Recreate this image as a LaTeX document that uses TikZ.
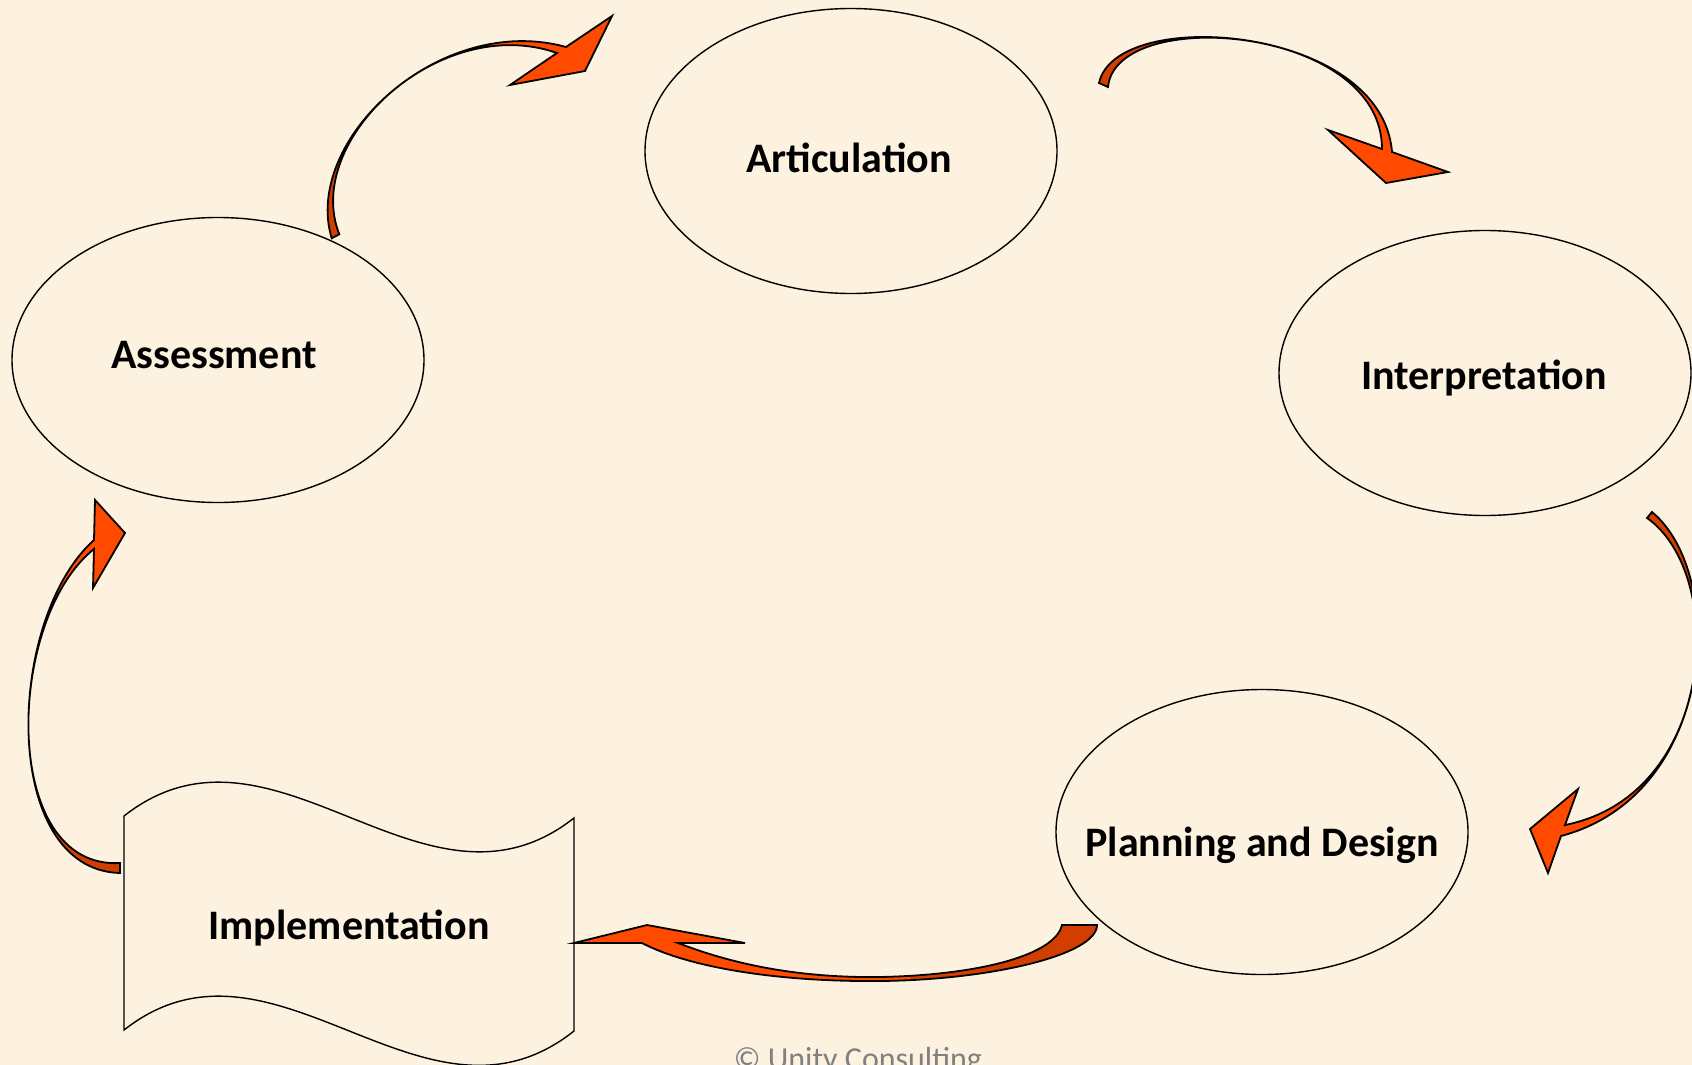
\documentclass[tikz,border=0pt]{standalone}
\usepackage{fontspec}
\setmainfont{Carlito}
\usetikzlibrary{shapes.geometric}
\definecolor{bg}{RGB}{253,242,223}
\definecolor{arrbright}{RGB}{255,74,0}
\definecolor{arrdark}{RGB}{210,62,0}
\definecolor{copygray}{RGB}{128,128,128}
\tikzset{
  stage/.style={ellipse, draw=black, line width=1.4pt, minimum width=412pt, minimum height=285pt, inner sep=0pt, fill=bg},
  stagelabel/.style={font=\fontsize{42}{50}\selectfont\bfseries, anchor=base, inner sep=0pt},
  arrowline/.style={draw=black, line width=1.8pt, line join=miter},
}
\def\arrowOne{(331.7,238.3) .. controls (302,140) and (440,12) .. (566,47) -- (612,16) -- (585,71) -- (510,85) -- (557,53) .. controls (440,12) and (302,140) .. (339.3,234.3) -- cycle}
\def\arrowTwo{(1099,83) .. controls (1116,5) and (1382,25) .. (1392,152) -- (1448,172) -- (1386,183) -- (1328,130) -- (1382,149) .. controls (1382,25) and (1116,5) .. (1108,87) -- cycle}
\def\arrowThree{(1652,512) .. controls (1728,575) and (1716,795) .. (1561,836) -- (1548,873) -- (1530,829) -- (1578,789) -- (1565,825) .. controls (1716,795) and (1728,575) .. (1647,518) -- cycle}
\def\arrowFour{(574,943) -- (647,925) -- (745,943) -- (678,943) .. controls (735,965) and (800,978) .. (880,977) .. controls (980,975) and (1055,955) .. (1062,925) -- (1097,925) .. controls (1097,955) and (990,980) .. (880,981) .. controls (780,982) and (690,968) .. (642,943) -- cycle}
\def\arrowFive{(120,873) .. controls (0,870) and (5,620) .. (94,540) -- (95,500) -- (125,533) -- (93,588) -- (94,549) .. controls (5,620) and (0,870) .. (120,863) -- cycle}
\begin{document}
\begin{tikzpicture}[x=1pt,y=-1pt]
\fill[bg] (0,0) rectangle (1692,1065);
\useasboundingbox (0,0) rectangle (1692,1065);
\clip (0,0) rectangle (1692,1065);

% stages
\node[stage] (art) at (851,151) {};
\node[stage] (ass) at (218,360) {};
\node[stage] (int) at (1485,373) {};
\node[stage] (pla) at (1262,832) {};
\path[fill=bg, draw=black, line width=1.4pt] (124,816) .. controls (274,698) and (424,936) .. (574,818) -- (574,1031) .. controls (424,1150) and (274,912) .. (124,1030) -- cycle;

% arrows: bright fill, darker tail part, outline
\fill[arrbright] \arrowOne;
\begin{scope}\clip (290,120) rectangle (470,260); \fill[arrdark] \arrowOne; \end{scope}
\path[arrowline] \arrowOne;

\fill[arrbright] \arrowTwo;
\begin{scope}\clip (1080,0) rectangle (1200,100); \fill[arrdark] \arrowTwo; \end{scope}
\path[arrowline] \arrowTwo;

\fill[arrbright] \arrowThree;
\begin{scope}\clip (1600,500) rectangle (1692,620); \fill[arrdark] \arrowThree; \end{scope}
\path[arrowline] \arrowThree;

\fill[arrbright] \arrowFour;
\begin{scope}\clip (910,900) rectangle (1110,990); \fill[arrdark] \arrowFour; \end{scope}
\path[arrowline] \arrowFour;

\fill[arrbright] \arrowFive;
\begin{scope}\clip (0,790) rectangle (130,880); \fill[arrdark] \arrowFive; \end{scope}
\path[arrowline] \arrowFive;

% labels
\node[stagelabel] (tart) at (849,172) {Articulation};
\node[stagelabel] (tass) at (214,368) {Assessment};
\node[stagelabel] (tint) at (1484,389) {Interpretation};
\node[stagelabel] (tpla) at (1262,856) {Planning and Design};
\node[stagelabel] (timp) at (349,939) {Implementation};
\node[font=\fontsize{32}{38}\selectfont, text=copygray, anchor=base, inner sep=0pt] (copy) at (858,1069) {© Unity Consulting};
\end{tikzpicture}
\end{document}
